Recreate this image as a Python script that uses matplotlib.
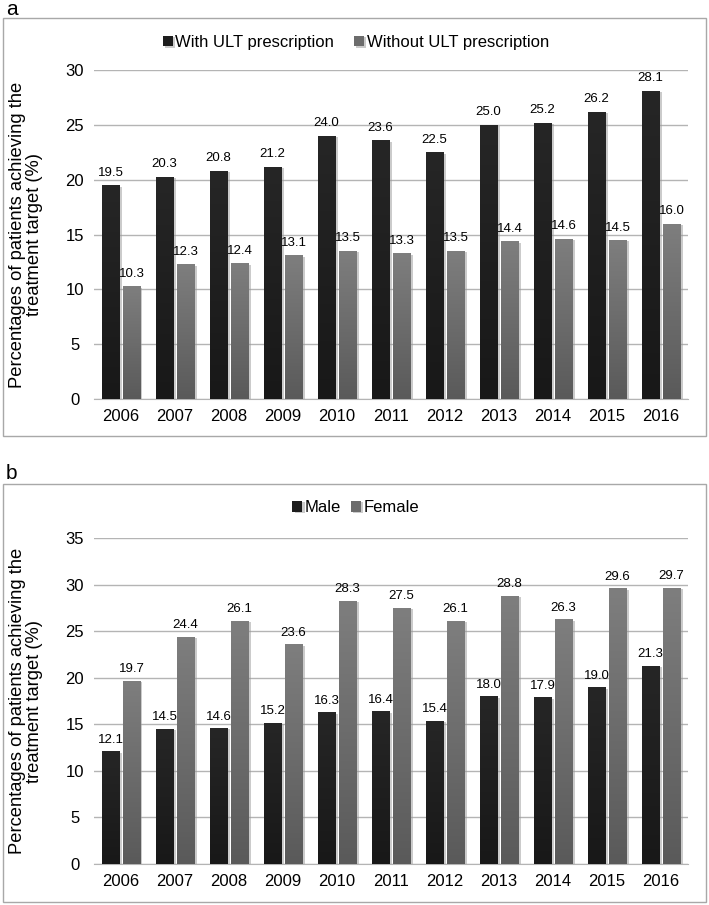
import numpy as np
import matplotlib
matplotlib.use("Agg")
import matplotlib.pyplot as plt
from matplotlib.patches import Rectangle
import matplotlib.patheffects as pe

plt.rcParams['font.family'] = ['Liberation Sans', 'DejaVu Sans']

years = ['2006', '2007', '2008', '2009', '2010', '2011', '2012', '2013', '2014', '2015', '2016']
with_ult = [19.5, 20.3, 20.8, 21.2, 24.0, 23.6, 22.5, 25.0, 25.2, 26.2, 28.1]
without_ult = [10.3, 12.3, 12.4, 13.1, 13.5, 13.3, 13.5, 14.4, 14.6, 14.5, 16.0]
male = [12.1, 14.5, 14.6, 15.2, 16.3, 16.4, 15.4, 18.0, 17.9, 19.0, 21.3]
female = [19.7, 24.4, 26.1, 23.6, 28.3, 27.5, 26.1, 28.8, 26.3, 29.6, 29.7]

ylabel = "Percentages of patients achieving the\ntreatment target (%)"

fig = plt.figure(figsize=(7.09, 9.05), dpi=100)

# panel frames
for y0, y1 in [(0.518, 0.980), (0.0033, 0.465)]:
    fig.add_artist(Rectangle((0.0042, y0), 0.9916, y1 - y0, transform=fig.transFigure,
                             fill=False, edgecolor='#a8a8a8', lw=1.0))
fig.text(0.008, 0.990, 'a', fontsize=15, va='center', ha='left')
fig.text(0.008, 0.477, 'b', fontsize=15, va='center', ha='left')


def gradient_bars(ax, bars, top, bottom):
    grad = np.linspace(0, 1, 100).reshape(-1, 1)
    cmap = matplotlib.colors.LinearSegmentedColormap.from_list('g', [bottom, top])
    for b in bars:
        x, w, h = b.get_x(), b.get_width(), b.get_height()
        im = ax.imshow(grad, extent=(x, x + w, 0, h), origin='lower', aspect='auto',
                       cmap=cmap, zorder=b.get_zorder() + 0.1)
        im.set_clip_path(b)


def panel(ax, s1, s2, lab1, lab2, ymax):
    x = np.arange(len(years))
    w = 0.33
    off = 0.194
    shadow = [pe.SimplePatchShadow(offset=(1.5, -1), shadow_rgbFace='#999999', alpha=0.5), pe.Normal()]
    b1 = ax.bar(x - off, s1, w, color='#1d1d1d', label=lab1, zorder=3, path_effects=shadow)
    b2 = ax.bar(x + off, s2, w, color='#6c6c6c', label=lab2, zorder=3, path_effects=shadow)
    gradient_bars(ax, b1, '#262626', '#181818')
    gradient_bars(ax, b2, '#7e7e7e', '#5a5a5a')
    for bars, vals in [(b1, s1), (b2, s2)]:
        for b, v in zip(bars, vals):
            ax.text(b.get_x() + b.get_width() / 2, v + 0.6, f"{v:.1f}",
                    ha='center', va='bottom', fontsize=9.5, zorder=5)
    ax.set_xlim(-0.5, len(years) - 0.5)
    ax.set_ylim(0, ymax)
    ax.set_yticks(np.arange(0, ymax + 1, 5))
    ax.set_xticks(x)
    ax.set_xticklabels(years)
    ax.tick_params(length=0, labelsize=12, pad=7)
    ax.tick_params(axis='y', pad=14)
    for t in ax.get_yticklabels():
        t.set_horizontalalignment('center')
    ax.grid(axis='y', color='#b4b4b4', lw=1.0, zorder=0)
    for s in ['top', 'right', 'left']:
        ax.spines[s].set_visible(False)
    ax.spines['bottom'].set_color('#b4b4b4')
    ax.set_ylabel(ylabel, fontsize=13.2, linespacing=1.0)
    ax.yaxis.set_label_coords(-0.086, 0.5)
    return b1, b2


ax1 = fig.add_axes([0.1326, 0.559, 0.838, 0.3635])
h = panel(ax1, with_ult, without_ult, 'With ULT prescription', 'Without ULT prescription', 30)
fig.legend(handles=h, loc='center', bbox_to_anchor=(0.502, 0.953), ncol=2, frameon=False,
           fontsize=12, handlelength=0.6, handleheight=0.6, handletextpad=0.15, columnspacing=1.2)

ax2 = fig.add_axes([0.1326, 0.0453, 0.838, 0.360])
h = panel(ax2, male, female, 'Male', 'Female', 35)
fig.legend(handles=h, loc='center', bbox_to_anchor=(0.502, 0.439), ncol=2, frameon=False,
           fontsize=12, handlelength=0.6, handleheight=0.6, handletextpad=0.15, columnspacing=0.6)

fig.savefig('out.png', dpi=100)
